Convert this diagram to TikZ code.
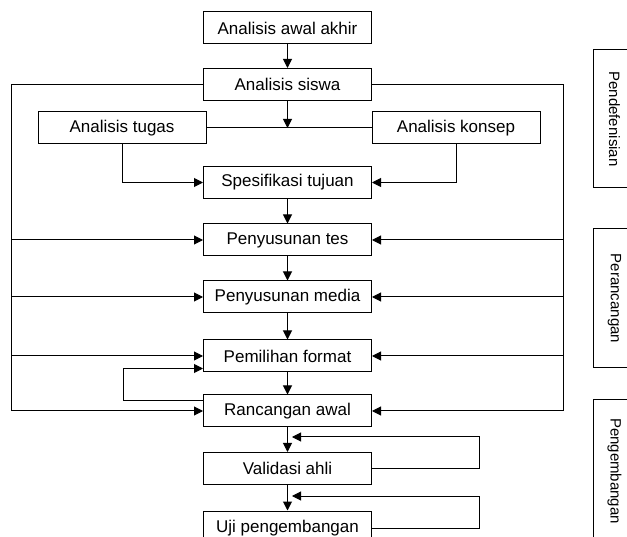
\documentclass[tikz,border=0pt]{standalone}
\usepackage{fontspec}
\setmainfont{Liberation Sans}
\usetikzlibrary{arrows.meta}
\begin{document}
\begin{tikzpicture}[x=1pt,y=-1pt,
  box/.style={draw, line width=1pt, minimum width=168pt, minimum height=32pt, inner sep=0pt, font=\fontsize{17}{20}\selectfont},
  side/.style={draw, line width=1pt, rotate=-90, minimum height=43pt, inner sep=0pt, font=\fontsize{15}{18}\selectfont},
  conn/.style={line width=1pt},
  arr/.style={line width=1pt, -{Triangle[length=9pt,width=9pt]}}]
\useasboundingbox (0,0) rectangle (627,537);
\clip (0,0) rectangle (627,537);
% main boxes
\node[box] (a1) at (287.5,28) {Analisis awal akhir};
\node[box] (a2) at (287.5,84.5) {Analisis siswa};
\node[box] (tugas) at (122,128) {Analisis tugas};
\node[box] (konsep) at (456,128) {Analisis konsep};
\node[box] (spes) at (287.5,182.5) {Spesifikasi tujuan};
\node[box] (tes) at (287.5,240) {Penyusunan tes};
\node[box] (media) at (287.5,297) {Penyusunan media};
\node[box] (format) at (287.5,356) {Pemilihan format};
\node[box] (ranc) at (287.5,411) {Rancangan awal};
\node[box] (valid) at (287.5,468.5) {Validasi ahli};
\node[box, minimum height=34pt] (uji) at (287.5,528) {Uji pengembangan};
% side labels
\node[side, minimum width=138pt] (s1) at (614.5,119) {Pendefenisian};
\node[side, minimum width=139pt] (s2) at (614.5,298.5) {Perancangan};
\node[side, minimum width=142pt] (s3) at (614.5,471) {Pengembangan};
% coordinates
\coordinate (L) at (11,0);
\coordinate (R) at (563,0);
\coordinate (j) at (287.5,128);
\coordinate (vr) at (479,437);
\coordinate (vt) at (292,437);
\coordinate (ur) at (479,496);
\coordinate (ut) at (292,496);
% vertical flow
\draw[arr] (a1) -- (a2);
\draw[conn] (tugas.east) -- (konsep.west);
\draw[arr] (a2.south) -- (j);
\draw[arr] (tugas.south) |- (spes.west);
\draw[arr] (konsep.south) |- (spes.east);
\draw[arr] (spes) -- (tes);
\draw[arr] (tes) -- (media);
\draw[arr] (media) -- (format);
\draw[arr] (format) -- (ranc);
\draw[arr] (ranc) -- (valid);
\draw[arr] (valid) -- (uji);
% left bus
\draw[conn] (a2.west) -| (L |- ranc.west);
\draw[arr] (L |- tes.west) -- (tes.west);
\draw[arr] (L |- media.west) -- (media.west);
\draw[arr] (L |- format.west) -- (format.west);
\draw[arr] (L |- ranc.west) -- (ranc.west);
% right bus
\draw[conn] (a2.east) -| (R |- ranc.east);
\draw[arr] (R |- tes.east) -- (tes.east);
\draw[arr] (R |- media.east) -- (media.east);
\draw[arr] (R |- format.east) -- (format.east);
\draw[arr] (R |- ranc.east) -- (ranc.east);
% loops
\draw[arr] ([yshift=-6pt]ranc.north west) -| ([xshift=-80pt,yshift=4pt]format.south west) -- ([yshift=4pt]format.south west);
\draw[arr] (valid.east) -| (vr) -- (vt);
\draw[arr] (uji.east) -| (ur) -- (ut);
\end{tikzpicture}
\end{document}
